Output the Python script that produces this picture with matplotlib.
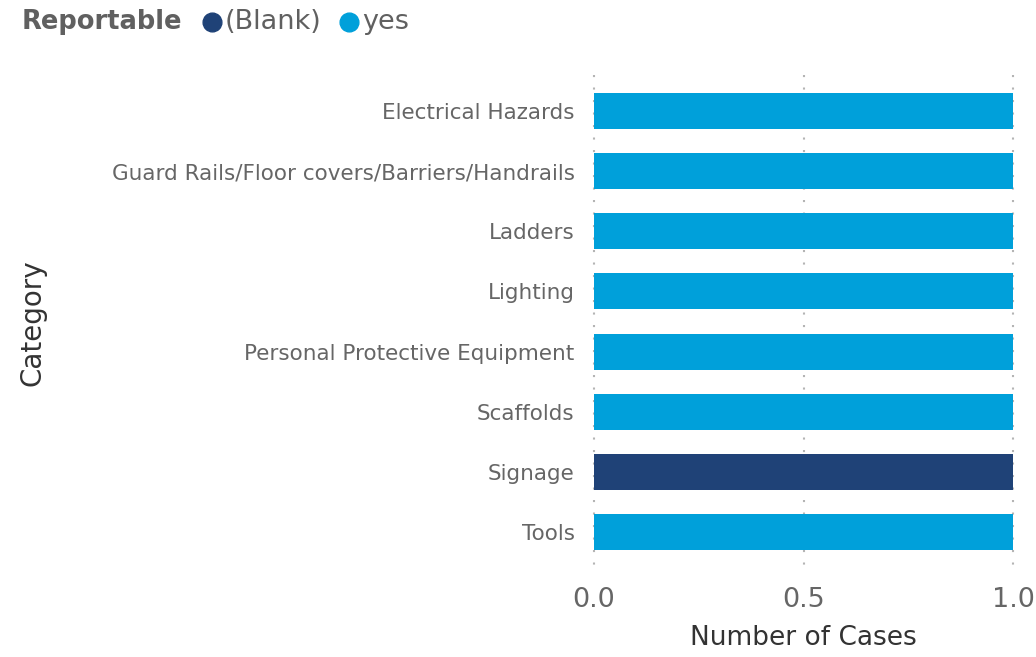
import matplotlib
matplotlib.use("Agg")
import matplotlib.pyplot as plt
from matplotlib.lines import Line2D

categories = [
    "Electrical Hazards",
    "Guard Rails/Floor covers/Barriers/Handrails",
    "Ladders",
    "Lighting",
    "Personal Protective Equipment",
    "Scaffolds",
    "Signage",
    "Tools",
]
cases = [1, 1, 1, 1, 1, 1, 1, 1]
reportable = ["yes", "yes", "yes", "yes", "yes", "yes", "(Blank)", "yes"]
legend_order = ["(Blank)", "yes"]
palette = {"(Blank)": "#1f4277", "yes": "#00a0da"}
xticks = [0.0, 0.5, 1.0]

plt.rcParams["font.family"] = ["DejaVu Sans"]

W, H = 1036, 657
fig = plt.figure(figsize=(W / 100, H / 100), dpi=100)
ax = fig.add_axes([0.5734, 0.1446, 0.4044, 0.7321])

y_pos = list(range(len(categories)))
ax.barh(y_pos, cases, height=0.6,
        color=[palette[r] for r in reportable], zorder=2)

ax.set_ylim(len(categories) - 0.5, -0.5)
ax.set_xlim(0, 1.0)
ax.set_yticks(y_pos)
ax.set_yticklabels(categories, fontsize=15.5, color="#666666")
ax.set_xticks(xticks)
ax.set_xticklabels([f"{t:.1f}" for t in xticks], fontsize=19.5, color="#666666")
ax.tick_params(axis="y", length=0, pad=14)
ax.tick_params(axis="x", length=0, pad=18)
for spine in ax.spines.values():
    spine.set_visible(False)
# dotted vertical gridlines, slightly past the plot area like the original
for t in xticks:
    ax.add_line(Line2D([t, t], [-0.6, len(categories) - 0.4], color="#b4b4b4",
                       linestyle=(0, (1, 5)), linewidth=1.5, zorder=0, clip_on=False))

ax.set_xlabel("Number of Cases", fontsize=19, color="#333333", labelpad=9)
fig.text(33 / W, 1 - 323 / H, "Category", rotation=90, fontsize=20, color="#333333",
         ha="center", va="center")

# legend row
ly = 1 - 22 / H
fig.text(22 / W, ly, "Reportable", fontsize=18.5, fontweight="bold",
         color="#606060", ha="left", va="center")
marker_x = {"(Blank)": 212, "yes": 349}
for name in legend_order:
    mx = marker_x[name]
    fig.add_artist(Line2D([mx / W], [ly], marker="o", markersize=13.5, color=palette[name],
                          linestyle="none", transform=fig.transFigure))
    fig.text((mx + 13) / W, ly, name, fontsize=19.5, color="#606060", ha="left", va="center")

fig.savefig("out.png", dpi=100)
